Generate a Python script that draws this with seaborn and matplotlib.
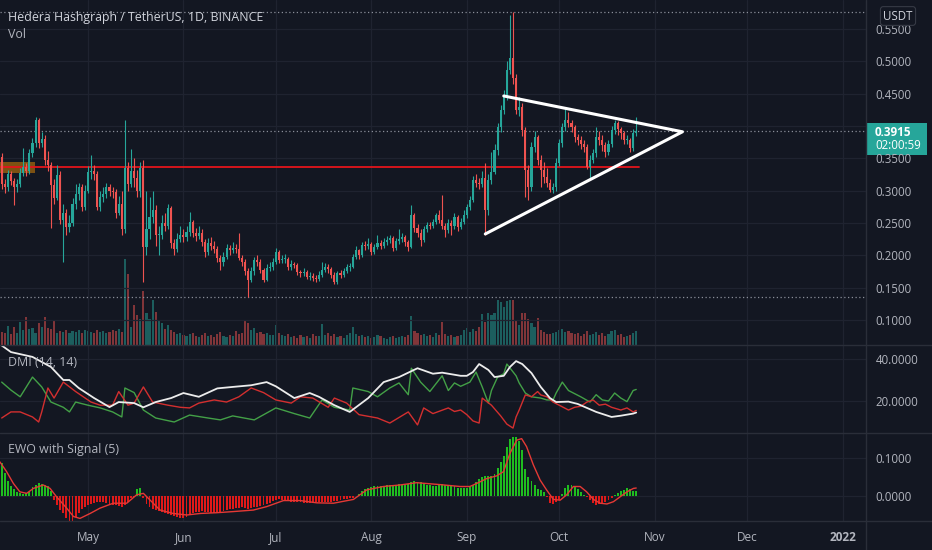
import numpy as np
import matplotlib
matplotlib.use("Agg")
import matplotlib.pyplot as plt
import seaborn as sns
from matplotlib.patches import Rectangle
from matplotlib.lines import Line2D

# daily candles, day 0 = 2021-04-03
first_open = 0.352
closes = [
    0.310, 0.305, 0.325, 0.315, 0.305, 0.310, 0.327, 0.337, 0.330, 0.358,
    0.374, 0.409, 0.374, 0.380, 0.347, 0.340, 0.309, 0.289, 0.324, 0.255,
    0.265, 0.244, 0.250, 0.280, 0.295, 0.305, 0.275, 0.300, 0.329, 0.330,
    0.325, 0.275, 0.290, 0.295, 0.305, 0.300, 0.298, 0.265, 0.280, 0.240,
    0.335, 0.310, 0.330, 0.320, 0.300, 0.335, 0.213, 0.240, 0.260, 0.270,
    0.232, 0.232, 0.250, 0.245, 0.273, 0.219, 0.210, 0.225, 0.232, 0.228,
    0.236, 0.252, 0.235, 0.230, 0.235, 0.220, 0.205, 0.219, 0.215, 0.210,
    0.196, 0.190, 0.198, 0.212, 0.208, 0.212, 0.210, 0.196, 0.190, 0.175,
    0.162, 0.175, 0.193, 0.190, 0.177, 0.162, 0.180, 0.182, 0.190, 0.205,
    0.193, 0.195, 0.195, 0.182, 0.186, 0.185, 0.174, 0.172, 0.174, 0.167,
    0.168, 0.165, 0.163, 0.170, 0.178, 0.182, 0.179, 0.170, 0.159, 0.172,
    0.170, 0.175, 0.182, 0.182, 0.197, 0.208, 0.200, 0.216, 0.214, 0.218,
    0.205, 0.213, 0.219, 0.215, 0.220, 0.224, 0.226, 0.211, 0.222, 0.225,
    0.228, 0.220, 0.213, 0.262, 0.242, 0.235, 0.224, 0.241, 0.247, 0.245,
    0.251, 0.262, 0.255, 0.245, 0.239, 0.250, 0.245, 0.259, 0.244, 0.252,
    0.262, 0.275, 0.285, 0.316, 0.312, 0.310, 0.320, 0.270, 0.316, 0.329,
    0.363, 0.398, 0.425, 0.445, 0.487, 0.505, 0.474, 0.425, 0.430, 0.394,
    0.332, 0.306, 0.368, 0.383, 0.348, 0.332, 0.321, 0.312, 0.301, 0.305,
    0.343, 0.374, 0.398, 0.409, 0.405, 0.398, 0.383, 0.378, 0.372, 0.368,
    0.337, 0.348, 0.358, 0.383, 0.378, 0.370, 0.360, 0.372, 0.394, 0.404,
    0.395, 0.389, 0.378, 0.378, 0.366, 0.389, 0.3915,
]
highs = [
    .358, .318, .332, .330, .320, .318, .335, .366, .342, .365,
    .382, .414, .412, .390, .386, .362, .345, .318, .340, .330,
    .280, .272, .262, .288, .310, .312, .310, .308, .338, .355,
    .340, .330, .300, .305, .312, .310, .306, .302, .292, .300,
    .409, .345, .365, .350, .332, .345, .348, .300, .290, .300,
    .278, .245, .262, .265, .280, .276, .225, .235, .245, .240,
    .245, .267, .255, .242, .245, .240, .225, .226, .228, .222,
    .215, .200, .205, .218, .216, .220, .218, .235, .200, .194,
    .180, .182, .198, .200, .194, .180, .186, .190, .196, .212,
    .208, .200, .202, .198, .192, .190, .188, .178, .180, .178,
    .174, .172, .170, .176, .190, .188, .186, .182, .174, .176,
    .178, .180, .186, .188, .202, .214, .210, .220, .222, .226,
    .220, .218, .232, .224, .226, .230, .232, .230, .226, .240,
    .234, .232, .224, .278, .266, .248, .240, .246, .252, .252,
    .256, .266, .270, .293, .250, .256, .255, .265, .262, .258,
    .270, .280, .292, .322, .325, .320, .330, .343, .325, .360,
    .372, .405, .432, .456, .500, .572, .576, .480, .445, .435,
    .398, .340, .375, .392, .386, .355, .345, .335, .318, .312,
    .350, .380, .405, .428, .422, .410, .402, .388, .384, .378,
    .372, .355, .365, .398, .392, .386, .375, .378, .400, .409,
    .408, .398, .392, .386, .382, .395, .414,
]
lows = [
    .302, .296, .300, .308, .278, .298, .305, .322, .322, .326,
    .352, .368, .366, .368, .340, .330, .242, .280, .285, .248,
    .190, .232, .236, .246, .272, .285, .268, .270, .296, .318,
    .316, .270, .268, .282, .288, .292, .288, .258, .262, .232,
    .235, .300, .305, .305, .290, .290, .159, .200, .225, .250,
    .215, .200, .225, .238, .240, .212, .200, .205, .220, .220,
    .222, .230, .228, .222, .225, .215, .198, .200, .208, .204,
    .190, .178, .184, .194, .200, .204, .203, .192, .184, .170,
    .136, .158, .170, .184, .172, .158, .160, .176, .178, .186,
    .188, .188, .188, .178, .178, .180, .170, .166, .168, .163,
    .162, .160, .158, .160, .166, .174, .172, .165, .155, .156,
    .165, .166, .172, .176, .180, .194, .195, .198, .208, .210,
    .200, .202, .210, .210, .212, .216, .219, .206, .208, .218,
    .220, .214, .206, .212, .236, .228, .215, .220, .236, .240,
    .242, .248, .250, .240, .228, .235, .232, .240, .238, .240,
    .248, .258, .270, .282, .305, .302, .305, .232, .262, .310,
    .325, .355, .390, .418, .440, .480, .465, .418, .415, .385,
    .290, .285, .300, .360, .340, .305, .312, .305, .298, .296,
    .300, .338, .368, .392, .398, .390, .375, .370, .364, .360,
    .334, .318, .342, .352, .370, .362, .352, .355, .368, .388,
    .386, .380, .372, .372, .360, .362, .384,
]
# volume, millions
volumes = [
    130, 120, 190, 110, 180, 120, 230, 150, 280, 160,
    170, 120, 220, 180, 280, 170, 160, 240, 120, 140,
    130, 150, 120, 140, 130, 150, 120, 150, 140, 130,
    120, 150, 130, 140, 120, 130, 150, 140, 160, 130,
    860, 710, 180, 400, 300, 260, 540, 320, 260, 450,
    330, 250, 220, 160, 200, 150, 130, 110, 120, 100,
    90, 110, 120, 90, 80, 100, 120, 90, 100, 80,
    110, 130, 90, 80, 100, 90, 140, 110, 120, 240,
    220, 150, 170, 120, 130, 110, 120, 100, 100, 200,
    120, 100, 90, 110, 80, 90, 70, 100, 80, 90,
    70, 110, 90, 90, 210, 100, 120, 90, 110, 80,
    90, 70, 100, 120, 180, 110, 90, 100, 80, 90,
    70, 80, 100, 90, 70, 60, 80, 90, 70, 80,
    90, 80, 100, 290, 140, 120, 100, 110, 90, 100,
    80, 120, 100, 230, 110, 90, 100, 80, 90, 100,
    150, 170, 130, 160, 140, 180, 310, 230, 320, 300,
    320, 450, 430, 380, 440, 450, 450, 250, 200, 320,
    320, 260, 220, 180, 270, 150, 130, 110, 110, 120,
    130, 150, 160, 130, 140, 120, 110, 120, 90, 110,
    140, 100, 110, 130, 100, 120, 90, 110, 140, 150,
    100, 110, 80, 90, 100, 120, 140,
]
# Elliott wave oscillator histogram
ewo = [
    0.087, 0.060, 0.040, 0.026, 0.018, 0.010, 0.007, 0.006, 0.007, 0.010,
    0.024, 0.029, 0.033, 0.032, 0.030, 0.025, 0.012, -0.011, -0.024, -0.037,
    -0.046, -0.059, -0.068, -0.065, -0.055, -0.045, -0.035, -0.030, -0.025, -0.021,
    -0.019, -0.016, -0.015, -0.017, -0.019, -0.020, -0.023, -0.025, -0.027, -0.028,
    -0.024, -0.015, -0.005, -0.003, 0.018, 0.020, -0.004, -0.020, -0.030, -0.035,
    -0.038, -0.040, -0.042, -0.045, -0.047, -0.050, -0.053, -0.055, -0.057, -0.058,
    -0.054, -0.050, -0.046, -0.043, -0.041, -0.040, -0.041, -0.042, -0.044, -0.045,
    -0.044, -0.042, -0.040, -0.038, -0.035, -0.033, -0.032, -0.031, -0.030, -0.032,
    -0.033, -0.032, -0.030, -0.028, -0.027, -0.025, -0.022, -0.018, -0.013, -0.010,
    -0.009, -0.010, -0.012, -0.013, -0.015, -0.016, -0.017, -0.017, -0.018, -0.019,
    -0.019, -0.018, -0.016, -0.015, -0.016, -0.017, -0.016, -0.015, -0.014, -0.012,
    -0.010, -0.009, -0.008, -0.006, -0.004, 0.001, 0.006, 0.012, 0.018, 0.022,
    0.024, 0.025, 0.025, 0.026, 0.027, 0.028, 0.030, 0.029, 0.030, 0.031,
    0.030, 0.029, 0.031, 0.036, 0.039, 0.037, 0.036, 0.034, 0.030, 0.029,
    0.026, 0.027, 0.029, 0.031, 0.030, 0.029, 0.027, 0.025, 0.021, 0.020,
    0.020, 0.021, 0.023, 0.028, 0.038, 0.045, 0.050, 0.052, 0.052, 0.053,
    0.058, 0.075, 0.090, 0.105, 0.130, 0.150, 0.155, 0.154, 0.145, 0.120,
    0.070, 0.050, 0.040, 0.028, 0.019, 0.016, 0.010, -0.003, -0.019, -0.021,
    -0.017, -0.010, 0.005, 0.022, 0.030, 0.029, 0.024, 0.018, 0.010, 0.003,
    -0.003, -0.011, -0.019, -0.024, -0.022, -0.019, -0.015, -0.011, -0.005, 0.003,
    0.008, 0.012, 0.016, 0.020, 0.018, 0.014, 0.013,
]
signal_days = [-0.6, 1.6, 3.8, 5.9, 8.1, 10.3, 13.5, 15.7, 17.8, 21.1, 23.3, 25.4,
               28.7, 31.9, 36.2, 40.6, 43.8, 46.0, 48.2, 51.4, 55.7, 60.1, 64.4,
               69.8, 75.2, 81.7, 86.0, 91.5, 96.9, 102.3, 107.7, 114.2, 118.5,
               123.9, 129.3, 134.7, 142.3, 148.8, 152.0, 154.2, 157.5, 160.7,
               162.9, 165.0, 167.2, 168.8, 170.4, 172.6, 174.8, 176.9, 179.1,
               181.3, 183.4, 185.6, 187.8, 189.9, 192.1, 194.3, 196.5, 198.6,
               200.8, 203.0, 205.1, 206.0]
signal_vals = [0.090, 0.064, 0.033, 0.011, 0.007, 0.020, 0.029, 0.020, -0.002,
               -0.032, -0.054, -0.059, -0.046, -0.032, -0.019, -0.019, 0.003,
               0.007, -0.011, -0.037, -0.046, -0.050, -0.046, -0.044, -0.041,
               -0.037, -0.028, -0.012, -0.012, -0.018, -0.019, -0.009, 0.016,
               0.025, 0.029, 0.035, 0.030, 0.025, 0.025, 0.033, 0.046, 0.053,
               0.064, 0.112, 0.147, 0.151, 0.130, 0.082, 0.042, 0.016, -0.009,
               -0.011, 0.003, 0.025, 0.025, 0.011, -0.009, -0.019, -0.021,
               -0.015, -0.002, 0.011, 0.020, 0.021]

# DMI (14, 14)
adx_days = [-1, 3, 10, 16, 20, 22, 25, 30, 35, 38, 43, 46, 50, 55, 59, 64, 70, 75,
            81, 86, 89, 95, 100, 103, 108, 113, 119, 124, 129, 135, 140, 143, 149,
            151, 153, 155, 158, 160, 163, 165, 167, 169, 172, 175, 178, 180, 184,
            187, 190, 193, 198, 201, 205, 206]
adx_vals = [47.5, 43.3, 41.0, 36.2, 30.0, 30.0, 26.2, 21.4, 17.1, 19.5, 19.0, 17.0,
            19.5, 21.4, 23.8, 22.0, 26.0, 26.7, 27.5, 29.0, 27.0, 21.4, 23.8, 22.0,
            18.0, 14.8, 21.4, 29.0, 31.4, 35.6, 33.0, 33.5, 32.0, 32.0, 33.8, 37.6,
            34.8, 31.4, 32.0, 36.2, 39.0, 37.6, 33.3, 26.7, 21.4, 19.5, 19.7, 18.6,
            16.7, 14.8, 12.4, 13.0, 14.0, 14.5]
plus_days = [0, 3, 6, 10, 13, 16, 20, 22, 24, 28, 32, 36, 39, 40, 43, 46, 50, 56,
             61, 67, 71, 75, 82, 89, 95, 100, 104, 108, 113, 114, 119, 122, 126,
             129, 132, 133, 136, 139, 143, 145, 147, 149, 152, 154, 156, 158, 159,
             161, 163, 164, 167, 168, 170, 172, 175, 177, 179, 180, 182, 184, 188,
             191, 193, 195, 197, 199, 201, 203, 205, 206]
plus_vals = [29.0, 25.2, 22.0, 31.4, 26.7, 19.5, 17.0, 14.8, 19.5, 18.0, 16.7, 14.8,
             12.4, 26.2, 24.0, 15.7, 11.9, 10.0, 13.3, 11.9, 11.0, 12.9, 11.0, 16.7,
             14.0, 11.9, 20.5, 17.0, 15.7, 26.2, 24.5, 22.0, 26.2, 28.6, 23.0, 35.6,
             29.0, 24.5, 32.0, 25.0, 28.6, 27.0, 29.0, 33.8, 26.7, 19.0, 25.0, 31.4,
             33.0, 37.6, 32.0, 28.6, 23.8, 22.0, 21.4, 20.5, 20.5, 23.8, 29.0, 25.0,
             22.0, 19.5, 23.0, 20.5, 20.0, 23.8, 21.4, 19.7, 25.0, 25.5]
minus_days = [0, 3, 6, 10, 12, 13, 15, 17, 20, 24, 29, 32, 36, 38, 41, 43, 46, 49,
              54, 58, 61, 64, 69, 73, 77, 81, 85, 89, 94, 97, 101, 106, 108, 112,
              116, 122, 126, 132, 135, 137, 140, 145, 147, 149, 151, 153, 155, 156,
              159, 162, 164, 166, 167, 168, 170, 172, 174, 175, 177, 179, 181, 184,
              186, 188, 190, 192, 194, 196, 198, 201, 203, 205, 206]
minus_vals = [11.9, 14.8, 14.8, 12.4, 10.0, 14.8, 26.2, 21.4, 29.0, 24.5, 19.5, 18.0,
              18.0, 24.5, 18.0, 19.0, 26.7, 19.5, 18.0, 17.0, 16.7, 19.0, 20.5, 19.5,
              22.0, 26.2, 24.0, 20.5, 19.0, 22.0, 21.4, 17.0, 21.4, 19.0, 13.5, 11.9,
              9.5, 14.8, 8.6, 16.7, 14.0, 16.7, 15.0, 15.7, 13.5, 10.5, 9.5, 21.4,
              18.0, 12.9, 9.0, 7.1, 12.4, 15.7, 22.9, 22.0, 24.5, 22.9, 22.0, 19.5,
              18.0, 15.7, 17.0, 17.5, 19.5, 20.5, 18.0, 18.5, 17.0, 15.7, 16.7, 14.8,
              15.5]

month_days = [28, 59, 89, 120, 151, 181, 212, 242, 273]
month_labels = ["May", "Jun", "Jul", "Aug", "Sep", "Oct", "Nov", "Dec", "2022"]
price_ticks = [0.10, 0.15, 0.20, 0.25, 0.30, 0.35, 0.40, 0.45, 0.50, 0.55]
dmi_ticks = [20, 40]
ewo_ticks = [0.0, 0.1]

# drawings on the price pane
support_level = 0.336
support_end = 207
tri_days = [163, 221, 157]
tri_prices = [0.4464, 0.391, 0.233]
zone_days = [-1, 10.8]
zone_prices = [0.327, 0.344]

BG = "#131722"
GRID = "#1f2330"
SEP = "#2a2e39"
TEXT = "#b2b5be"
UP = "#26a69a"
DOWN = "#ef5350"

W, H = 932, 550
PANE_R = 866


def pane(fig, top, bottom):
    return fig.add_axes([0, 1 - bottom / H, PANE_R / W, (bottom - top) / H])


def style_pane(ax, ticks, fmt, hidden=()):
    ax.set_facecolor(BG)
    for s in ax.spines.values():
        s.set_visible(False)
    ax.set_xlim(-0.55, 280.6)
    ax.set_xticks(month_days)
    ax.set_yticks(ticks)
    # the label under the last-price tag is covered on the original
    ax.set_yticklabels(["" if t in hidden else fmt.format(t) for t in ticks])
    ax.yaxis.tick_right()
    ax.tick_params(axis="y", length=0, pad=7, labelsize=8.3, labelcolor=TEXT)
    ax.tick_params(axis="x", length=0, labelbottom=False)
    ax.grid(True, color=GRID, lw=0.9)
    ax.set_axisbelow(True)


def main():
    sns.set_theme(style="dark", rc={"axes.facecolor": BG, "figure.facecolor": BG})
    plt.rcParams["font.family"] = ["Open Sans", "DejaVu Sans"]

    fig = plt.figure(figsize=(W / 100, H / 100), dpi=100)

    days = np.arange(len(closes))
    c = np.array(closes)
    o = np.array([first_open] + closes[:-1])
    up = c >= o
    colors = np.where(up, UP, DOWN)

    # price pane with volume underneath
    ax = pane(fig, 0, 345)
    axv = ax.twinx()
    ax.set_zorder(2)
    axv.set_zorder(1)
    ax.patch.set_visible(False)
    axv.bar(days, volumes, width=0.7, color=colors, alpha=0.5, linewidth=0)
    axv.set_ylim(0, 3450)
    axv.set_yticks([])
    axv.grid(False)
    for s in axv.spines.values():
        s.set_visible(False)

    style_pane(ax, price_ticks, "{:.4f}", hidden=(0.40,))
    ax.set_ylim(0.0613, 0.5948)

    ax.add_patch(Rectangle((zone_days[0], zone_prices[0]), zone_days[1] - zone_days[0],
                           zone_prices[1] - zone_prices[0], facecolor="#ff9800",
                           alpha=0.45, lw=0, zorder=1))
    ax.plot([-1, support_end], [support_level, support_level], color="#e3141b", lw=1.3, zorder=2)

    ax.vlines(days, lows, highs, colors=colors, lw=0.8, zorder=3)
    body = np.maximum(np.abs(c - o), 0.0016)
    ax.bar(days, body, bottom=np.minimum(o, c), width=0.68, color=colors, lw=0, zorder=4)

    dot = (0, (1, 2))
    for lvl in (max(highs), closes[-1], min(lows)):
        ax.axhline(lvl, color="#8a8e99", lw=0.9, ls=dot, zorder=2)

    ax.plot(tri_days, tri_prices, color="white", lw=2.2, solid_capstyle="round",
            solid_joinstyle="round", zorder=5)

    # DMI pane
    ax2 = pane(fig, 345, 433)
    style_pane(ax2, dmi_ticks, "{:.4f}")
    ax2.set_ylim(4.76, 46.67)
    sns.lineplot(x=plus_days, y=plus_vals, ax=ax2, color="#43a047", lw=1.0)
    sns.lineplot(x=minus_days, y=minus_vals, ax=ax2, color="#d32f2f", lw=1.0)
    sns.lineplot(x=adx_days, y=adx_vals, ax=ax2, color="#ececec", lw=1.3)
    ax2.set_xlabel("")
    ax2.set_ylabel("")

    # EWO pane
    ax3 = pane(fig, 433, 521)
    style_pane(ax3, ewo_ticks, "{:.4f}")
    ax3.set_ylim(-0.0658, 0.1658)
    ev = np.array(ewo)
    ax3.bar(days, ev, width=0.62, color=np.where(ev >= 0, "#1fbd1f", "#e01919"), lw=0)
    sns.lineplot(x=signal_days, y=signal_vals, ax=ax3, color="#e53935", lw=1.0)
    ax3.set_xlabel("")
    ax3.set_ylabel("")
    ax3.set_xticklabels(month_labels)
    ax3.tick_params(axis="x", labelbottom=True, pad=7, labelsize=8.5, labelcolor=TEXT)
    ax3.get_xticklabels()[-1].set_fontweight("bold")

    # pane separators
    for y in (345, 433, 521):
        fig.add_artist(Line2D([0, 1], [1 - y / H] * 2, color=SEP, lw=1.0))
    fig.add_artist(Line2D([PANE_R / W] * 2, [0, 1], color=SEP, lw=1.0))

    # legends / labels
    fig.text(8 / W, 1 - 17 / H, "Hedera Hashgraph / TetherUS, 1D, BINANCE",
             color="#d1d4dc", fontsize=8.9, va="center")
    fig.text(8 / W, 1 - 34 / H, "Vol", color=TEXT, fontsize=8.9, va="center")
    fig.text(8 / W, 1 - 362 / H, "DMI (14, 14)", color=TEXT, fontsize=8.9, va="center")
    fig.text(8 / W, 1 - 450 / H, "EWO with Signal (5)", color=TEXT, fontsize=8.9, va="center")

    fig.text(898 / W, 1 - 16 / H, "USDT", color="#d1d4dc", fontsize=8.3,
             ha="center", va="center",
             bbox=dict(boxstyle="round,pad=0.25", fc=BG, ec="#363a45", lw=0.8))

    fig.add_artist(Rectangle((PANE_R / W, 1 - 155 / H), 61 / W, 32 / H,
                             transform=fig.transFigure, facecolor=UP, lw=0))
    fig.text(875 / W, 1 - 132 / H, "{:.4f}".format(closes[-1]), color="white",
             fontsize=8.5, fontweight="bold", va="center")
    fig.text(875 / W, 1 - 146 / H, "02:00:59", color="white", fontsize=8.3, va="center")

    fig.savefig("out.png", dpi=100, facecolor=BG)


if __name__ == "__main__":
    main()
